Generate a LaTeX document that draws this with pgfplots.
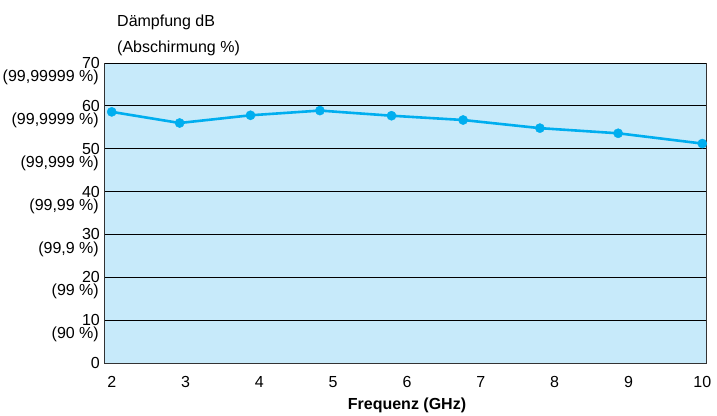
\documentclass[border=0pt]{standalone}
\usepackage{fontspec}
\setmainfont{Liberation Sans}
\usepackage{pgfplots}
\pgfplotsset{compat=1.18}
\definecolor{bgblue}{HTML}{C7EAFA}
\definecolor{linecyan}{HTML}{00AEEF}
\begin{document}
\fontsize{16}{19}\selectfont
\begin{tikzpicture}
\useasboundingbox (-105pt,-52pt) rectangle (612pt,363pt);
\begin{axis}[
  at={(0,0)}, anchor=south west,
  scale only axis, width=601pt, height=300pt,
  xmin=1.909, xmax=10.05, ymin=0, ymax=70,
  xtick={2,...,10}, ytick={0,10,...,70},
  tick style={draw=none},
  ymajorgrids, grid style={black, line width=0.9pt},
  axis background/.style={fill=bgblue},
  axis line style={draw=black!80, line width=1pt},
  /pgf/number format/assume math mode=true,
  tick label style={font=\fontsize{16}{19}\selectfont},
  yticklabel style={anchor=east, inner sep=0pt, xshift=-5pt},
  xticklabel style={anchor=north, inner sep=0pt, yshift=-13pt},
  extra y ticks={10,20,...,70},
  extra y tick labels={{(90 \%)},{(99 \%)},{(99,9 \%)},{(99,99 \%)},{(99,999 \%)},{(99,9999 \%)},{(99,99999 \%)}},
  extra y tick style={yticklabel style={yshift=-14.5pt, xshift=-1pt}},
  clip=false,
]
\addplot[linecyan, line width=2.6pt, mark=*, mark size=4.6pt,
  mark options={solid, fill=linecyan, draw=linecyan, line width=0.4pt}]
  coordinates {(2,58.6) (2.92,56.0) (3.88,57.8) (4.82,58.9) (5.79,57.7)
               (6.76,56.7) (7.80,54.8) (8.86,53.6) (10,51.2)};
\end{axis}
\node[anchor=base west, inner sep=0pt] at (12pt,336pt) {Dämpfung dB};
\node[anchor=base west, inner sep=0pt] at (12pt,310pt) {(Abschirmung \%)};
\node[anchor=base, inner sep=0pt, font=\bfseries] at (302pt,-46pt) {Frequenz (GHz)};
\end{tikzpicture}
\end{document}
